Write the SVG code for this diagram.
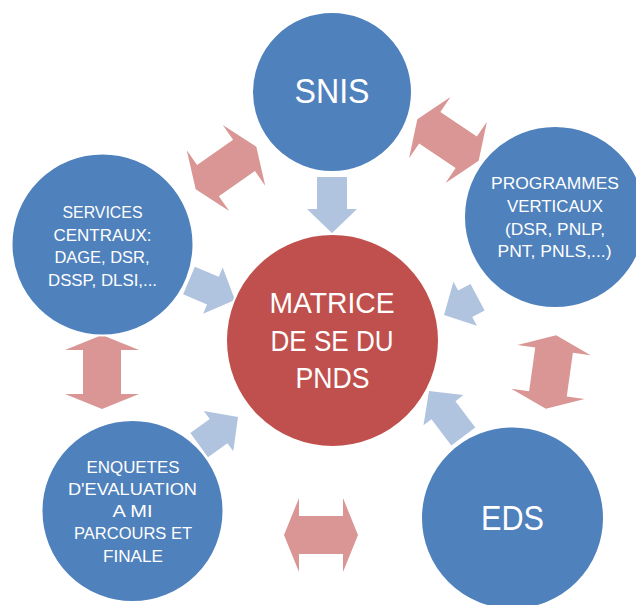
<svg xmlns="http://www.w3.org/2000/svg" xmlns:xlink="http://www.w3.org/1999/xlink" width="636" height="605" viewBox="0 0 636 605">
<style>
.blue{fill:#4F81BD;stroke:#FFFFFF;stroke-width:2}
.red{fill:#C0504D;stroke:#FFFFFF;stroke-width:2}
.la{fill:#B0C3DF}
.ra{fill:#D99694}
text{font-family:"Liberation Sans",Arial,sans-serif;fill:#FFFFFF;text-anchor:middle}
.big{font-size:35px}
.mid{font-size:29px}
.sm{font-size:17px}
</style>
<defs>
<polygon id="dbl" points="-37,0 -22,-37 -22,-19 22,-19 22,-37 37,0 22,37 22,19 -22,19 -22,37"/>
</defs>
<rect width="636" height="605" fill="#FFFFFF"/>
<g id="connectors">
<polygon class="la" transform="translate(332,233) rotate(90)" points="0,0 -24,-25 -24,-15 -56,-15 -56,15 -24,15 -24,25"/>
<polygon class="la" transform="translate(235,300) rotate(23)" points="0,0 -24,-25 -24,-15 -50,-15 -50,15 -24,15 -24,25"/>
<polygon class="la" transform="translate(238,417) rotate(-36)" points="0,0 -24,-25 -24,-15 -48,-15 -48,15 -24,15 -24,25"/>
<polygon class="la" transform="translate(429,391) rotate(-127)" points="0,0 -24,-25 -24,-15 -57,-15 -57,15 -24,15 -24,25"/>
<polygon class="la" transform="translate(444,315) rotate(152)" points="0,0 -24,-25 -24,-15 -38,-15 -38,15 -24,15 -24,25"/>
<use xlink:href="#dbl" class="ra" transform="translate(226,168) rotate(-35)"/>
<use xlink:href="#dbl" class="ra" transform="translate(448,140) rotate(34)"/>
<use xlink:href="#dbl" class="ra" transform="translate(102,372) rotate(90)"/>
<use xlink:href="#dbl" class="ra" transform="translate(551,372) rotate(98)"/>
<use xlink:href="#dbl" class="ra" transform="translate(321,535)"/>
</g>
<g id="n-snis">
<circle class="blue" cx="332" cy="92" r="80"/>
<text class="big" x="332" y="103" textLength="75" lengthAdjust="spacingAndGlyphs">SNIS</text>
</g>
<g id="n-programmes">
<circle class="blue" cx="555" cy="217" r="91"/>
<text class="sm" x="555" y="189" textLength="128" lengthAdjust="spacingAndGlyphs">PROGRAMMES</text>
<text class="sm" x="555" y="212" textLength="96" lengthAdjust="spacingAndGlyphs">VERTICAUX</text>
<text class="sm" x="555" y="234.5" textLength="100" lengthAdjust="spacingAndGlyphs">(DSR, PNLP,</text>
<text class="sm" x="554.5" y="257" textLength="114" lengthAdjust="spacingAndGlyphs">PNT, PNLS,...)</text>
</g>
<g id="n-services">
<circle class="blue" cx="102.5" cy="244.5" r="91"/>
<text class="sm" x="102.5" y="218" textLength="80" lengthAdjust="spacingAndGlyphs">SERVICES</text>
<text class="sm" x="102.5" y="240.5" textLength="98" lengthAdjust="spacingAndGlyphs">CENTRAUX:</text>
<text class="sm" x="102" y="263" textLength="95" lengthAdjust="spacingAndGlyphs">DAGE, DSR,</text>
<text class="sm" x="102.5" y="285.5" textLength="109" lengthAdjust="spacingAndGlyphs">DSSP, DLSI,...</text>
</g>
<g id="n-matrice">
<circle class="red" cx="332.5" cy="340.5" r="106.5"/>
<text class="mid" x="332" y="313" textLength="125" lengthAdjust="spacingAndGlyphs">MATRICE</text>
<text class="mid" x="332" y="350.5" textLength="123" lengthAdjust="spacingAndGlyphs">DE SE DU</text>
<text class="mid" x="332.5" y="387.5" textLength="74" lengthAdjust="spacingAndGlyphs">PNDS</text>
</g>
<g id="n-enquetes">
<circle class="blue" cx="132.5" cy="511" r="91"/>
<text class="sm" x="133" y="472.5" textLength="93" lengthAdjust="spacingAndGlyphs">ENQUETES</text>
<text class="sm" x="132.5" y="494.5" textLength="129" lengthAdjust="spacingAndGlyphs">D'EVALUATION</text>
<text class="sm" x="132.5" y="516.5" textLength="40" lengthAdjust="spacingAndGlyphs">A MI</text>
<text class="sm" x="133" y="539" textLength="118" lengthAdjust="spacingAndGlyphs">PARCOURS ET</text>
<text class="sm" x="133" y="561.5" textLength="60" lengthAdjust="spacingAndGlyphs">FINALE</text>
</g>
<g id="n-eds">
<circle class="blue" cx="512.5" cy="518" r="91.5"/>
<text class="big" x="512.5" y="530" textLength="63" lengthAdjust="spacingAndGlyphs">EDS</text>
</g>
</svg>
